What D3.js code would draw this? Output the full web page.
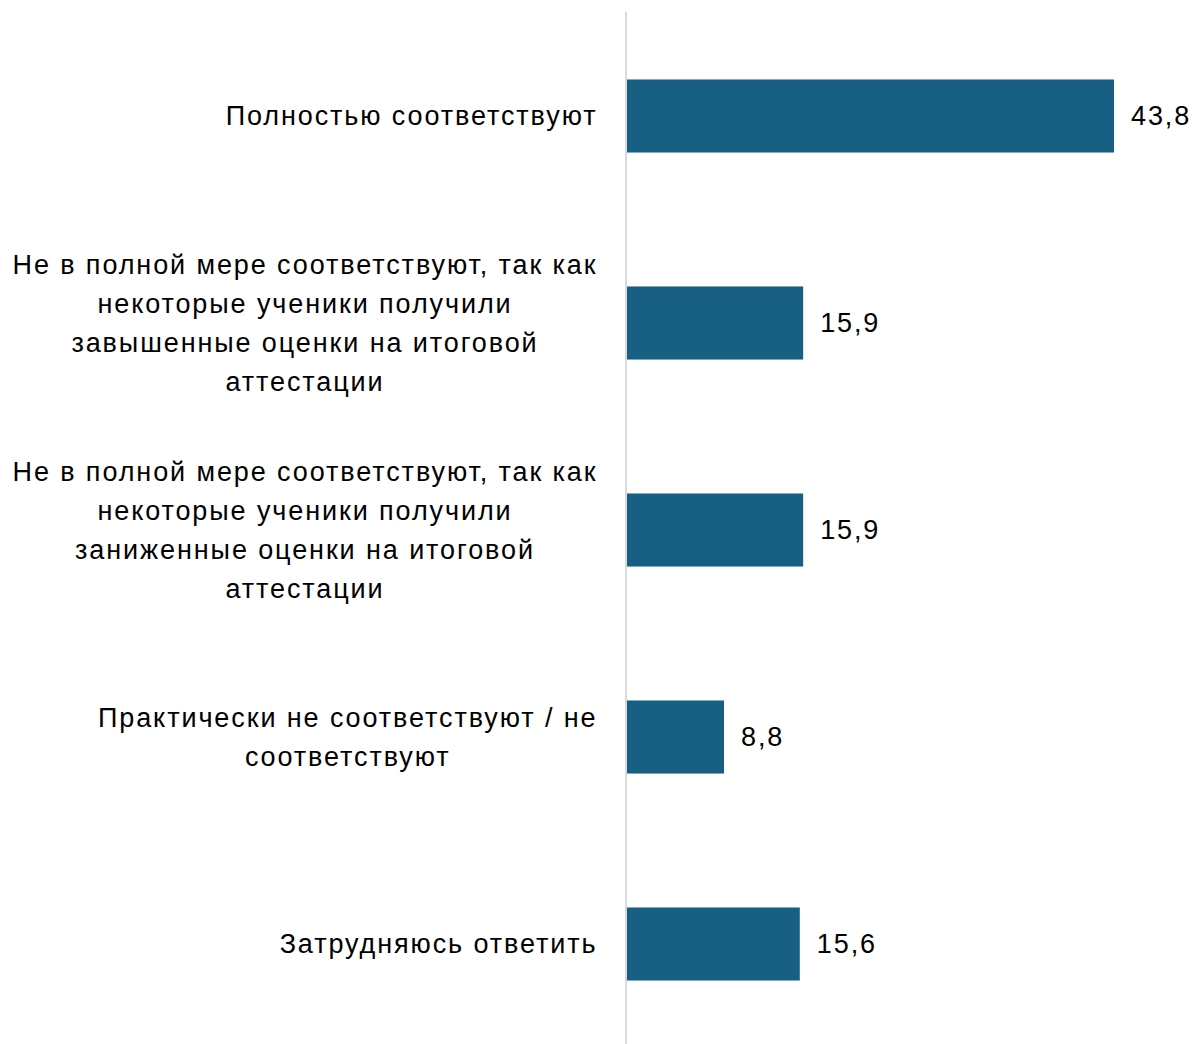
<!DOCTYPE html>
<html>
<head>
<meta charset="utf-8">
<script src="https://cdn.jsdelivr.net/npm/d3@7"></script>
<style>
	body { margin: 0; background: #fff; }
	text { font-family: "Liberation Sans", Arial, sans-serif; fill: #000; }
</style>
</head>
<body>
<div id="chart"></div>
<script>
// categories (line breaks as in the original)
const categories = [
	'Полностью соответствуют',
	'Не в полной мере соответствуют, так как\nнекоторые ученики получили\nзавышенные оценки на итоговой\nаттестации',
	'Не в полной мере соответствуют, так как\nнекоторые ученики получили\nзаниженные оценки на итоговой\nаттестации',
	'Практически не соответствуют / не\nсоответствуют',
	'Затрудняюсь ответить'
];
const values = [43.8, 15.9, 15.9, 8.8, 15.6];
const valueLabels = ['43,8', '15,9', '15,9', '8,8', '15,6'];

const config = {
	width: 1195,
	height: 1044,
	axisX: 626,
	labelRight: 597.5,
	fontSize: 27,
	letterSpacing: 1.9,
	lineHeight: 39,
	barColour: '#175F83'
};

const svg = d3.select('#chart')
	.append('svg')
	.attr('width', config.width)
	.attr('height', config.height);

const x = d3.scaleLinear()
	.domain([0, 43.8])
	.range([config.axisX, 1114]);

const y = d3.scaleBand()
	.domain(d3.range(categories.length))
	.range([12.5, 1047.5])
	.paddingInner(0.647)
	.paddingOuter(0.3235);

// bars
svg.append('g')
	.selectAll('rect')
	.data(values)
	.enter()
	.append('rect')
		.attr('x', x(0))
		.attr('y', (d, i) => y(i))
		.attr('width', d => x(d) - x(0))
		.attr('height', y.bandwidth())
		.attr('fill', config.barColour);

// axis line
svg.append('line')
	.attr('x1', config.axisX)
	.attr('x2', config.axisX)
	.attr('y1', 12)
	.attr('y2', config.height)
	.attr('stroke', '#d9d9d9')
	.attr('stroke-width', 2);

// value labels
svg.append('g')
	.selectAll('text')
	.data(values)
	.enter()
	.append('text')
		.attr('x', d => x(d) + 17)
		.attr('y', (d, i) => y(i) + y.bandwidth() / 2)
		.attr('dy', '0.35em')
		.style('font-size', config.fontSize + 'px')
		.style('letter-spacing', config.letterSpacing + 'px')
		.text((d, i) => valueLabels[i]);

// category labels: block right aligned, lines centred within block
categories.forEach((c, i) => {
	const lines = c.split('\n');
	const g = svg.append('g');
	const texts = g.selectAll('text')
		.data(lines)
		.enter()
		.append('text')
			.style('font-size', config.fontSize + 'px')
			.style('letter-spacing', config.letterSpacing + 'px')
			.attr('text-anchor', 'middle')
			.attr('dy', '0.35em')
			.text(d => d);
	let maxW = 0;
	texts.each(function() { maxW = Math.max(maxW, this.getComputedTextLength()); });
	const cx = config.labelRight - maxW / 2;
	const cy = y(i) + y.bandwidth() / 2;
	const top = cy - (lines.length - 1) * config.lineHeight / 2;
	texts
		.attr('x', cx)
		.attr('y', (d, j) => top + j * config.lineHeight);
});
</script>
</body>
</html>
